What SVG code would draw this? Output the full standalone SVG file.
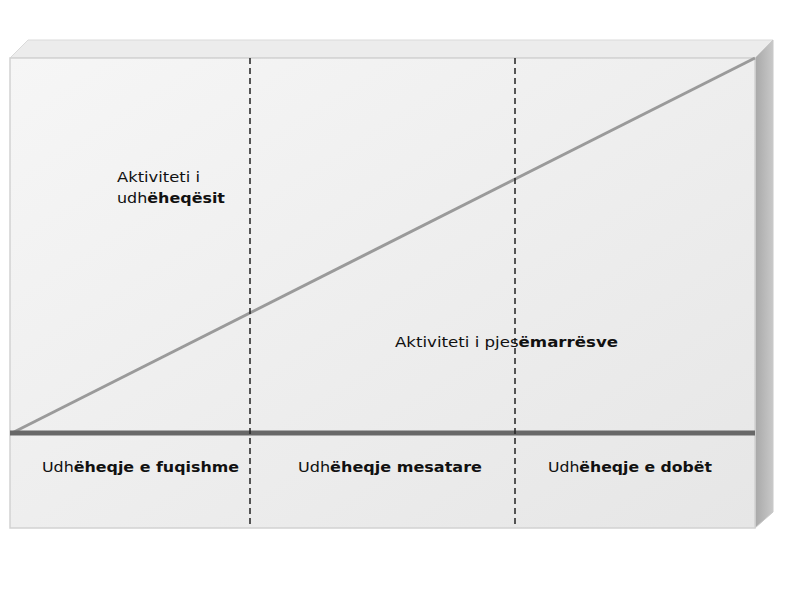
<svg xmlns="http://www.w3.org/2000/svg" width="789" height="604" viewBox="0 0 789 604">
<defs>
<linearGradient id="front" x1="0" y1="0" x2="1" y2="1">
<stop offset="0" stop-color="#f6f6f6"/>
<stop offset="1" stop-color="#e6e6e6"/>
</linearGradient>
<linearGradient id="side" x1="0" y1="0" x2="1" y2="0">
<stop offset="0" stop-color="#a8a8a8"/>
<stop offset="1" stop-color="#c8c8c8"/>
</linearGradient>
<style>
.t{font-family:"DejaVu Sans","Liberation Sans",sans-serif;font-size:14px;fill:#111}
.b{font-weight:bold}
.dash{stroke:#222;stroke-width:1.5;stroke-dasharray:6,4;fill:none}
</style>
</defs>
<rect width="789" height="604" fill="#ffffff"/>
<g id="box">
<polygon points="10,58 28,40 773,40 755,58" fill="#ececec" stroke="#dadada" stroke-width="1"/>
<polygon points="755,58 773,40 773,512 755,528" fill="url(#side)" stroke="#c8c8c8" stroke-width="1"/>
<rect x="10" y="58" width="745" height="470" fill="url(#front)" stroke="#d2d2d2" stroke-width="1.5"/>
</g>
<g id="connectors">
<line x1="12" y1="433" x2="755" y2="58" stroke="#9a9a9a" stroke-width="3"/>
<line x1="10" y1="433" x2="755" y2="433" stroke="#686868" stroke-width="5"/>
<line class="dash" x1="250" y1="58" x2="250" y2="528"/>
<line class="dash" x1="515" y1="58" x2="515" y2="528"/>
</g>
<g id="leader-activity">
<text class="t" x="117" y="182" textLength="83" lengthAdjust="spacingAndGlyphs">Aktiviteti i</text>
<text class="t" x="117" y="203" textLength="108" lengthAdjust="spacingAndGlyphs">udh<tspan class="b">ëheqësit</tspan></text>
</g>
<g id="participant-activity">
<text class="t" x="395" y="347" textLength="223" lengthAdjust="spacingAndGlyphs">Aktiviteti i pjes<tspan class="b">ëmarrësve</tspan></text>
</g>
<g id="strong">
<text class="t" x="42" y="472" textLength="197" lengthAdjust="spacingAndGlyphs">Udh<tspan class="b">ëheqje e fuqishme</tspan></text>
</g>
<g id="medium">
<text class="t" x="298" y="472" textLength="184" lengthAdjust="spacingAndGlyphs">Udh<tspan class="b">ëheqje mesatare</tspan></text>
</g>
<g id="weak">
<text class="t" x="548" y="472" textLength="164" lengthAdjust="spacingAndGlyphs">Udh<tspan class="b">ëheqje e dobët</tspan></text>
</g>
</svg>
